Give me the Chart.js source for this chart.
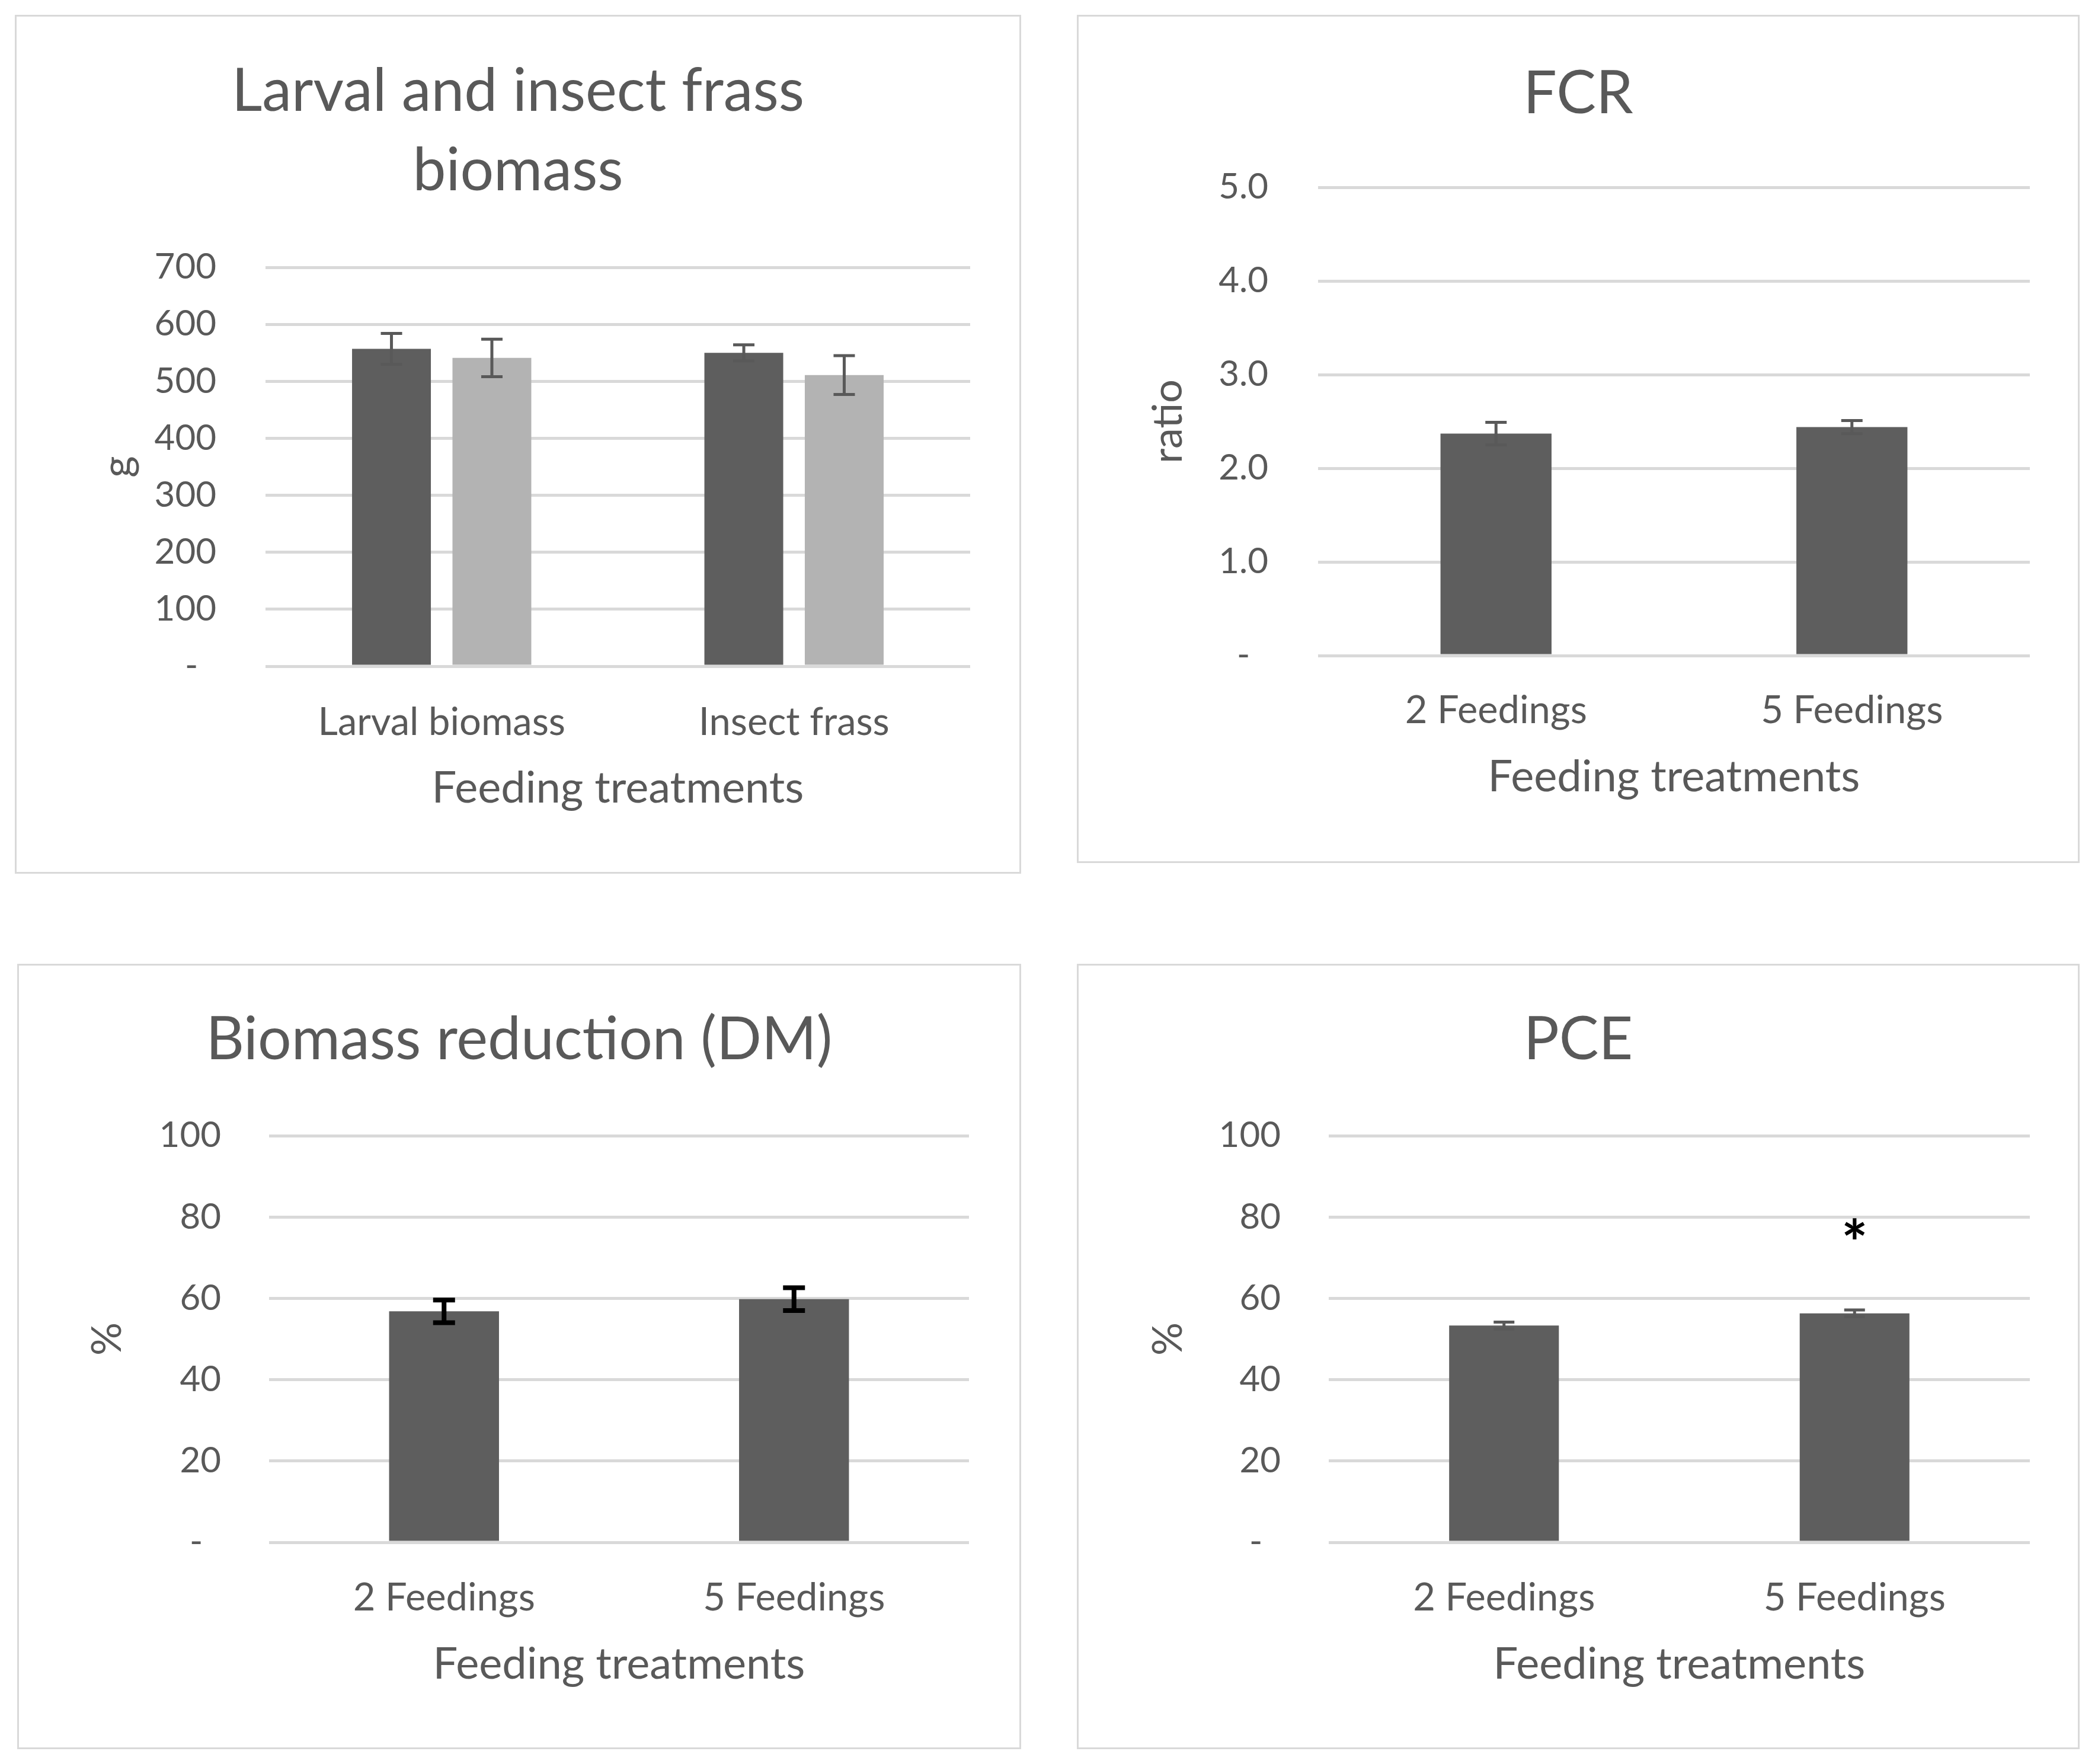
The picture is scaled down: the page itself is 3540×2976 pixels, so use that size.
<!DOCTYPE html>
<html>
<head>
<meta charset="utf-8">
<script src="https://cdn.jsdelivr.net/npm/chart.js@4.4.1/dist/chart.umd.min.js"></script>
<style>
  html, body { margin: 0; padding: 0; background: #ffffff; }
  body { width: 3540px; height: 2976px; position: relative; overflow: hidden; }
  .panel { position: absolute; box-sizing: border-box; border: 3px solid #d9d9d9; background: #fff; }
  .panel canvas { display: block; }
</style>
</head>
<body>
<div class="panel" id="p1" style="left:25px;top:25px;width:1698px;height:1449px;"><canvas id="c1" width="1692" height="1443" style="width:1692px;height:1443px"></canvas></div>
<div class="panel" id="p2" style="left:1817px;top:25px;width:1692px;height:1431px;"><canvas id="c2" width="1686" height="1425" style="width:1686px;height:1425px"></canvas></div>
<div class="panel" id="p3" style="left:29px;top:1626px;width:1694px;height:1325px;"><canvas id="c3" width="1688" height="1319" style="width:1688px;height:1319px"></canvas></div>
<div class="panel" id="p4" style="left:1817px;top:1626px;width:1692px;height:1325px;"><canvas id="c4" width="1686" height="1319" style="width:1686px;height:1319px"></canvas></div>
<script>
// ---------------- DATA ----------------
const biomassCategories = ['Larval biomass', 'Insect frass'];
const biomassSeriesDark = [557, 550];
const biomassErrDark = [27, 14];
const biomassSeriesLight = [541, 511];
const biomassErrLight = [33, 34];
const biomassTicks = { min: 0, max: 700, step: 100 };

const feedingCategories = ['2 Feedings', '5 Feedings'];

const fcrValues = [2.37, 2.44];
const fcrErr = [0.12, 0.07];
const fcrTicks = { min: 0, max: 5, step: 1 };

const reductionValues = [56.8, 59.8];
const reductionErr = [2.8, 2.8];
const pctTicks = { min: 0, max: 100, step: 20 };

const pceValues = [53.3, 56.3];
const pceErr = [0.85, 0.85];
const pceSignificance = ['', '*'];
const pceSignificanceY = [null, 73];

const titles = {
  biomass: ['Larval and insect frass', 'biomass'],
  fcr: 'FCR',
  reduction: 'Biomass reduction (DM)',
  pce: 'PCE'
};
const xAxisTitle = 'Feeding treatments';

// ---------------- STYLE ----------------
const TEXT = '#595959';
const DARK = '#5e5e5e';
const LIGHT = '#b3b3b3';
const GRID = '#d9d9d9';
const FONT = 'Lato';

const errorBarPlugin = {
  id: 'errorBars',
  afterDatasetsDraw(chart, args, opts) {
    const ctx = chart.ctx;
    const ys = chart.scales.y;
    chart.data.datasets.forEach((ds, i) => {
      if (!ds.errors) return;
      const meta = chart.getDatasetMeta(i);
      meta.data.forEach((bar, j) => {
        const v = ds.data[j], e = ds.errors[j];
        if (v == null || e == null) return;
        const yTop = ys.getPixelForValue(v + e);
        const yBot = ys.getPixelForValue(v - e);
        const half = opts.cap / 2;
        ctx.save();
        ctx.strokeStyle = opts.color;
        ctx.lineWidth = opts.width;
        ctx.lineCap = 'butt';
        ctx.beginPath();
        ctx.moveTo(bar.x, yTop); ctx.lineTo(bar.x, yBot);
        ctx.moveTo(bar.x - half, yTop); ctx.lineTo(bar.x + half, yTop);
        ctx.moveTo(bar.x - half, yBot); ctx.lineTo(bar.x + half, yBot);
        ctx.stroke();
        ctx.restore();
      });
    });
  }
};

const sigPlugin = {
  id: 'sigLabels',
  afterDatasetsDraw(chart, args, opts) {
    const ctx = chart.ctx;
    const ys = chart.scales.y;
    chart.data.datasets.forEach((ds, i) => {
      if (!ds.sigLabels) return;
      const meta = chart.getDatasetMeta(i);
      meta.data.forEach((bar, j) => {
        const t = ds.sigLabels[j];
        const yv = ds.sigY[j];
        if (!t || yv == null) return;
        ctx.save();
        ctx.fillStyle = '#000000';
        ctx.font = 'bold 105px ' + FONT;
        ctx.textAlign = 'center';
        ctx.textBaseline = 'middle';
        ctx.fillText(t, bar.x, ys.getPixelForValue(yv));
        ctx.restore();
      });
    });
  }
};

function tickFmt(decimals) {
  return function (v) {
    if (v === 0) return '-  ';
    return decimals ? Number(v).toFixed(decimals) : String(v);
  };
}

function makeOptions(c) {
  return {
    responsive: false,
    maintainAspectRatio: false,
    animation: false,
    devicePixelRatio: 1,
    layout: { padding: { left: c.pl, right: c.pl, top: 0, bottom: c.pb } },
    plugins: {
      legend: { display: false },
      tooltip: { enabled: false },
      title: {
        display: true, text: c.title, color: TEXT,
        font: { family: FONT, size: 100, weight: 'normal', lineHeight: 1.34 },
        padding: { top: c.tpt, bottom: c.tpb }
      },
      errorBars: c.err
    },
    scales: {
      x: {
        grid: { display: false }, border: { display: false },
        ticks: { color: TEXT, font: { family: FONT, size: 65 }, padding: c.xtp, maxRotation: 0, autoSkip: false },
        title: { display: true, text: xAxisTitle, color: TEXT, font: { family: FONT, size: 74 }, padding: { top: 0, bottom: 0 } },
        afterFit: s => { s.height = c.xh; }
      },
      y: {
        min: c.ticks.min, max: c.ticks.max,
        ticks: { stepSize: c.ticks.step, callback: tickFmt(c.dec), color: TEXT, font: { family: FONT, size: 60 }, padding: c.ytp },
        grid: { color: GRID, lineWidth: 5, drawTicks: false },
        border: { display: false },
        title: { display: true, text: c.ytitle, color: TEXT, font: { family: FONT, size: 70 }, padding: { top: c.ytt, bottom: 0 } },
        afterFit: s => { s.width = c.yw; }
      }
    }
  };
}

function build() {
  Chart.register(errorBarPlugin, sigPlugin);

  new Chart(document.getElementById('c1'), {
    type: 'bar',
    data: {
      labels: biomassCategories,
      datasets: [
        { data: biomassSeriesDark, errors: biomassErrDark, backgroundColor: DARK, barPercentage: 0.785, categoryPercentage: 0.57 },
        { data: biomassSeriesLight, errors: biomassErrLight, backgroundColor: LIGHT, barPercentage: 0.785, categoryPercentage: 0.57 }
      ]
    },
    options: makeOptions({ pl: 83, pb: 96, title: titles.biomass, tpt: 60, tpb: 95, xtp: 48, xh: 251,
      ticks: biomassTicks, dec: 0, ytp: 83, ytitle: 'g', ytt: 46, yw: 337,
      err: { color: '#595959', width: 5, cap: 36 } })
  });

  new Chart(document.getElementById('c2'), {
    type: 'bar',
    data: {
      labels: feedingCategories,
      datasets: [ { data: fcrValues, errors: fcrErr, backgroundColor: DARK, barPercentage: 1, categoryPercentage: 0.312 } ]
    },
    options: makeOptions({ pl: 81, pb: 97, title: titles.fcr, tpt: 64, tpb: 90, xtp: 46, xh: 250,
      ticks: fcrTicks, dec: 1, ytp: 84, ytitle: 'ratio', ytt: 28, yw: 323,
      err: { color: '#595959', width: 5, cap: 36 } })
  });

  new Chart(document.getElementById('c3'), {
    type: 'bar',
    data: {
      labels: feedingCategories,
      datasets: [ { data: reductionValues, errors: reductionErr, backgroundColor: DARK, barPercentage: 1, categoryPercentage: 0.314 } ]
    },
    options: makeOptions({ pl: 85, pb: 95, title: titles.reduction, tpt: 59, tpb: 94, xtp: 47, xh: 251,
      ticks: pctTicks, dec: 0, ytp: 81, ytitle: '%', ytt: 22, yw: 337,
      err: { color: '#000000', width: 8, cap: 37 } })
  });

  new Chart(document.getElementById('c4'), {
    type: 'bar',
    data: {
      labels: feedingCategories,
      datasets: [ { data: pceValues, errors: pceErr, sigLabels: pceSignificance, sigY: pceSignificanceY, backgroundColor: DARK, barPercentage: 1, categoryPercentage: 0.313 } ]
    },
    options: makeOptions({ pl: 81, pb: 95, title: titles.pce, tpt: 59, tpb: 94, xtp: 47, xh: 251,
      ticks: pctTicks, dec: 0, ytp: 81, ytitle: '%', ytt: 28, yw: 341,
      err: { color: '#595959', width: 5, cap: 35 } })
  });
}

Promise.all([
  document.fonts.load('60px Lato'),
  document.fonts.load('bold 105px Lato')
]).catch(() => {}).then(build);
</script>
</body>
</html>
